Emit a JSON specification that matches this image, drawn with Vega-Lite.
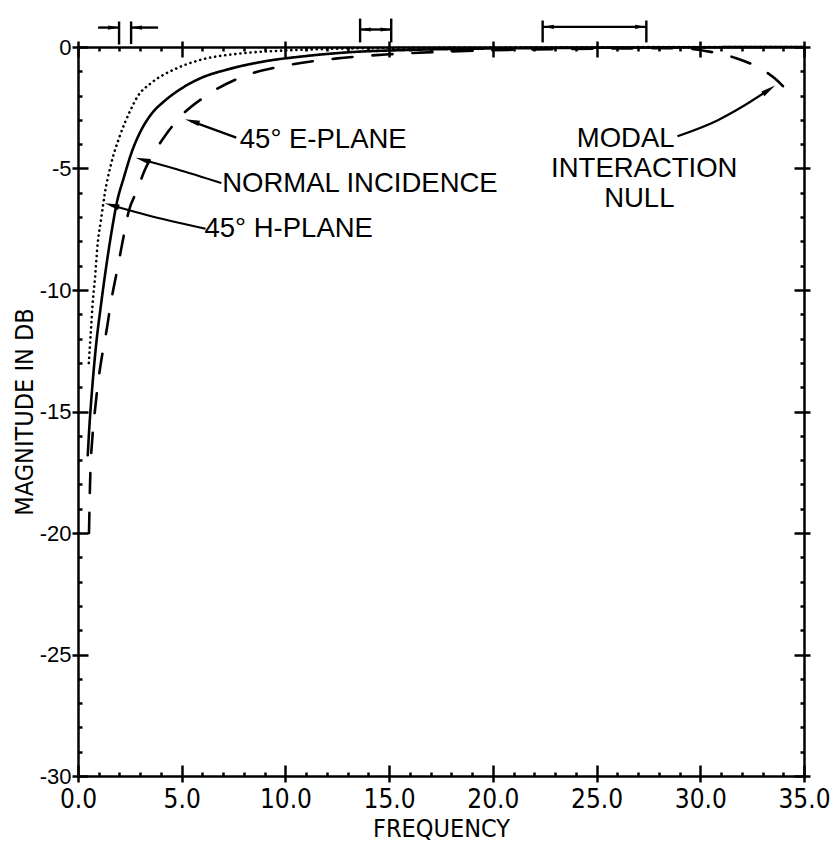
{
  "$schema": "https://vega.github.io/schema/vega-lite/v6.json",
  "autosize": {"type": "none"},
  "width": 726,
  "height": 729,
  "padding": {"left": 78, "top": 47, "right": 34, "bottom": 70},
  "background": "white",
  "config": {
    "view": {"stroke": null},
    "axis": {"grid": false, "domainColor": "black", "tickColor": "black", "labelColor": "black", "titleColor": "black"}
  },
  "datasets": {
    "curves": [
      {"series": "Normal incidence", "x": 0.47, "y": -16.8},
      {"series": "Normal incidence", "x": 0.55, "y": -15.6},
      {"series": "Normal incidence", "x": 0.66, "y": -14.3},
      {"series": "Normal incidence", "x": 0.88, "y": -12.2},
      {"series": "Normal incidence", "x": 1.11, "y": -10.6},
      {"series": "Normal incidence", "x": 1.4, "y": -8.8},
      {"series": "Normal incidence", "x": 1.6, "y": -7.7},
      {"series": "Normal incidence", "x": 1.9, "y": -6.3},
      {"series": "Normal incidence", "x": 2.2, "y": -5.4},
      {"series": "Normal incidence", "x": 2.6, "y": -4.3},
      {"series": "Normal incidence", "x": 3.0, "y": -3.5},
      {"series": "Normal incidence", "x": 3.5, "y": -2.8},
      {"series": "Normal incidence", "x": 4.2, "y": -2.2},
      {"series": "Normal incidence", "x": 5.0, "y": -1.7},
      {"series": "Normal incidence", "x": 6.0, "y": -1.25},
      {"series": "Normal incidence", "x": 7.1, "y": -0.95},
      {"series": "Normal incidence", "x": 9.0, "y": -0.59},
      {"series": "Normal incidence", "x": 10.9, "y": -0.38},
      {"series": "Normal incidence", "x": 13.0, "y": -0.22},
      {"series": "Normal incidence", "x": 16.0, "y": -0.12},
      {"series": "Normal incidence", "x": 20.0, "y": -0.06},
      {"series": "Normal incidence", "x": 25.0, "y": -0.03},
      {"series": "Normal incidence", "x": 30.0, "y": -0.01},
      {"series": "Normal incidence", "x": 35.0, "y": 0},
      {"series": "45° H-plane", "x": 0.52, "y": -13.0},
      {"series": "45° H-plane", "x": 0.62, "y": -11.7},
      {"series": "45° H-plane", "x": 0.72, "y": -10.4},
      {"series": "45° H-plane", "x": 0.82, "y": -9.5},
      {"series": "45° H-plane", "x": 0.93, "y": -8.25},
      {"series": "45° H-plane", "x": 1.11, "y": -7.1},
      {"series": "45° H-plane", "x": 1.3, "y": -6.0},
      {"series": "45° H-plane", "x": 1.57, "y": -4.9},
      {"series": "45° H-plane", "x": 2.0, "y": -3.7},
      {"series": "45° H-plane", "x": 2.53, "y": -2.6},
      {"series": "45° H-plane", "x": 2.9, "y": -2.0},
      {"series": "45° H-plane", "x": 3.5, "y": -1.5},
      {"series": "45° H-plane", "x": 4.65, "y": -0.92},
      {"series": "45° H-plane", "x": 5.9, "y": -0.53},
      {"series": "45° H-plane", "x": 7.7, "y": -0.28},
      {"series": "45° H-plane", "x": 9.8, "y": -0.15},
      {"series": "45° H-plane", "x": 12.0, "y": -0.08},
      {"series": "45° H-plane", "x": 15.0, "y": -0.04},
      {"series": "45° H-plane", "x": 20.0, "y": -0.02},
      {"series": "45° H-plane", "x": 25.0, "y": -0.01},
      {"series": "45° H-plane", "x": 35.0, "y": 0},
      {"series": "45° E-plane", "x": 0.53, "y": -20.0},
      {"series": "45° E-plane", "x": 0.58, "y": -18.0},
      {"series": "45° E-plane", "x": 0.7, "y": -16.0},
      {"series": "45° E-plane", "x": 0.8, "y": -15.1},
      {"series": "45° E-plane", "x": 1.0, "y": -13.6},
      {"series": "45° E-plane", "x": 1.18, "y": -12.6},
      {"series": "45° E-plane", "x": 1.37, "y": -11.7},
      {"series": "45° E-plane", "x": 1.59, "y": -10.5},
      {"series": "45° E-plane", "x": 1.87, "y": -9.26},
      {"series": "45° E-plane", "x": 2.13, "y": -8.1},
      {"series": "45° E-plane", "x": 2.45, "y": -6.75},
      {"series": "45° E-plane", "x": 2.85, "y": -5.9},
      {"series": "45° E-plane", "x": 3.2, "y": -5.1},
      {"series": "45° E-plane", "x": 3.7, "y": -4.3},
      {"series": "45° E-plane", "x": 4.2, "y": -3.65},
      {"series": "45° E-plane", "x": 4.9, "y": -2.9},
      {"series": "45° E-plane", "x": 6.1, "y": -2.05},
      {"series": "45° E-plane", "x": 8.0, "y": -1.2},
      {"series": "45° E-plane", "x": 10.1, "y": -0.75},
      {"series": "45° E-plane", "x": 12.4, "y": -0.48},
      {"series": "45° E-plane", "x": 15.0, "y": -0.3},
      {"series": "45° E-plane", "x": 18.0, "y": -0.18},
      {"series": "45° E-plane", "x": 22.0, "y": -0.1},
      {"series": "45° E-plane", "x": 26.0, "y": -0.06},
      {"series": "45° E-plane", "x": 29.0, "y": -0.05},
      {"series": "45° E-plane", "x": 30.5, "y": -0.2},
      {"series": "45° E-plane", "x": 31.7, "y": -0.45},
      {"series": "45° E-plane", "x": 32.7, "y": -0.8},
      {"series": "45° E-plane", "x": 33.6, "y": -1.3},
      {"series": "45° E-plane", "x": 34.4, "y": -2.0}
    ],
    "arrows": [
      {"id": "E", "x": 7.63, "y": -3.73},
      {"id": "E", "x": 5.45, "y": -3.05},
      {"id": "N", "x": 6.91, "y": -5.6},
      {"id": "N", "x": 4.76, "y": -5.03},
      {"id": "N", "x": 3.1, "y": -4.64},
      {"id": "H", "x": 6.15, "y": -7.48},
      {"id": "H", "x": 4.09, "y": -7.08},
      {"id": "H", "x": 1.6, "y": -6.51},
      {"id": "M", "x": 28.9, "y": -3.67},
      {"id": "M", "x": 30.85, "y": -3.01},
      {"id": "M", "x": 32.1, "y": -2.42},
      {"id": "M", "x": 33.3, "y": -1.76}
    ],
    "labels": [
      {"group": "left", "x": 7.8, "y": -3.81, "text": "45° E-PLANE"},
      {"group": "left", "x": 6.95, "y": -5.65, "text": "NORMAL INCIDENCE"},
      {"group": "left", "x": 6.1, "y": -7.49, "text": "45° H-PLANE"},
      {"group": "center", "x": 26.4, "y": -3.77, "text": "MODAL"},
      {"group": "center", "x": 27.3, "y": -5.0, "text": "INTERACTION"},
      {"group": "center", "x": 27.06, "y": -6.27, "text": "NULL"}
    ],
    "brackets": [
      {"x": 0.97, "y": 0.8, "x2": 1.98, "y2": 0.8},
      {"x": 2.56, "y": 0.8, "x2": 3.86, "y2": 0.8},
      {"x": 1.98, "y": 0.1, "x2": 1.98, "y2": 1.05},
      {"x": 2.56, "y": 0.12, "x2": 2.56, "y2": 1.05},
      {"x": 13.6, "y": 0.72, "x2": 15.1, "y2": 0.72},
      {"x": 13.6, "y": 0.19, "x2": 13.6, "y2": 1.17},
      {"x": 15.1, "y": 0.19, "x2": 15.1, "y2": 1.17},
      {"x": 22.4, "y": 0.83, "x2": 27.4, "y2": 0.83},
      {"x": 22.4, "y": 0.19, "x2": 22.4, "y2": 1.09},
      {"x": 27.4, "y": 0.19, "x2": 27.4, "y2": 1.09}
    ],
    "heads": [
      {"kind": "label", "x": 5.5, "y": -3.06},
      {"kind": "label", "x": 3.12, "y": -4.64},
      {"kind": "label", "x": 1.63, "y": -6.51},
      {"kind": "modal", "x": 33.31, "y": -1.76},
      {"kind": "right", "x": 1.72, "y": 0.8},
      {"kind": "left", "x": 2.82, "y": 0.8},
      {"kind": "left", "x": 13.85, "y": 0.72},
      {"kind": "right", "x": 14.85, "y": 0.72},
      {"kind": "left", "x": 22.68, "y": 0.83},
      {"kind": "right", "x": 27.12, "y": 0.83}
    ]
  },
  "resolve": {"axis": {"x": "independent", "y": "independent"}},
  "layer": [
    {
      "data": {"name": "curves"},
      "mark": {"type": "line", "interpolate": "monotone", "color": "black", "strokeCap": "round"},
      "encoding": {
        "x": {"field": "x", "type": "quantitative", "scale": {"domain": [0, 35], "nice": false, "zero": false},
          "axis": {"orient": "bottom", "values": [0, 5, 10, 15, 20, 25, 30, 35], "tickSize": 6, "tickWidth": 2.5, "domainWidth": 2.5,
            "labelExpr": "format(datum.value, '.1f')", "labelFont": "Liberation Sans Narrow, DejaVu Sans Condensed, Liberation Sans, sans-serif", "labelFontSize": 26, "labelPadding": 4, "labelFlush": false,
            "title": "FREQUENCY", "titleFont": "Liberation Sans Narrow, DejaVu Sans Condensed, Liberation Sans, sans-serif", "titleFontSize": 25, "titleFontWeight": "normal", "titlePadding": 4}},
        "y": {"field": "y", "type": "quantitative", "scale": {"domain": [-30, 0], "nice": false, "zero": false},
          "axis": {"orient": "left", "values": [-30, -25, -20, -15, -10, -5, 0], "tickSize": 6, "tickWidth": 2.5, "domainWidth": 2.5,
            "labelExpr": "'' + datum.value", "labelFont": "Liberation Sans, sans-serif", "labelFontSize": 22, "labelPadding": 1, "labelFlush": false,
            "title": "MAGNITUDE IN DB", "titleFont": "Liberation Sans Narrow, DejaVu Sans Condensed, Liberation Sans, sans-serif", "titleFontSize": 25, "titleFontWeight": "normal", "titlePadding": 2}},
        "strokeDash": {"field": "series", "type": "nominal", "legend": null,
          "scale": {"domain": ["Normal incidence", "45° E-plane", "45° H-plane"], "range": [[1, 0], [20, 20], [0.1, 5]]}},
        "strokeWidth": {"field": "series", "type": "nominal", "legend": null,
          "scale": {"domain": ["Normal incidence", "45° E-plane", "45° H-plane"], "range": [2.6, 2.6, 3.2]}}
      }
    },
    {
      "data": {"name": "arrows"},
      "mark": {"type": "line", "interpolate": "monotone", "strokeWidth": 2.2, "color": "black"},
      "encoding": {
        "x": {"field": "x", "type": "quantitative", "scale": {"domain": [0, 35], "nice": false, "zero": false},
          "axis": {"orient": "top", "values": [0, 5, 10, 15, 20, 25, 30, 35], "tickSize": 6, "tickWidth": 2.5, "domainWidth": 2.5, "labels": false, "title": null}},
        "y": {"field": "y", "type": "quantitative", "scale": {"domain": [-30, 0], "nice": false, "zero": false},
          "axis": {"orient": "right", "values": [-30, -25, -20, -15, -10, -5, 0], "tickSize": 6, "tickWidth": 2.5, "domainWidth": 2.5, "labels": false, "title": null}},
        "detail": {"field": "id", "type": "nominal"}
      }
    },
    {
      "data": {"name": "labels"},
      "transform": [{"filter": "datum.group === 'left'"}],
      "mark": {"type": "text", "align": "left", "baseline": "middle", "font": "Liberation Sans, sans-serif", "fontSize": 27.5, "color": "black"},
      "encoding": {
        "x": {"field": "x", "type": "quantitative", "scale": {"domain": [0, 35], "nice": false, "zero": false},
          "axis": {"orient": "bottom", "values": [0,1,2,3,4,5,6,7,8,9,10,11,12,13,14,15,16,17,18,19,20,21,22,23,24,25,26,27,28,29,30,31,32,33,34,35],
            "tickSize": {"condition": {"test": "datum.value % 5 === 0", "value": -11}, "value": -4}, "tickWidth": 2.5, "domain": false, "labels": false, "title": null}},
        "y": {"field": "y", "type": "quantitative", "scale": {"domain": [-30, 0], "nice": false, "zero": false},
          "axis": {"orient": "left", "values": [-30,-29,-28,-27,-26,-25,-24,-23,-22,-21,-20,-19,-18,-17,-16,-15,-14,-13,-12,-11,-10,-9,-8,-7,-6,-5,-4,-3,-2,-1,0],
            "tickSize": {"condition": {"test": "datum.value % 5 === 0", "value": -10}, "value": -4}, "tickWidth": 2.5, "domain": false, "labels": false, "title": null}},
        "text": {"field": "text", "type": "nominal"}
      }
    },
    {
      "data": {"name": "brackets"},
      "mark": {"type": "rule", "strokeWidth": 2.4, "color": "black"},
      "encoding": {
        "x": {"field": "x", "type": "quantitative", "scale": {"domain": [0, 35], "nice": false, "zero": false},
          "axis": {"orient": "top", "values": [0,1,2,3,4,5,6,7,8,9,10,11,12,13,14,15,16,17,18,19,20,21,22,23,24,25,26,27,28,29,30,31,32,33,34,35],
            "tickSize": {"condition": {"test": "datum.value % 5 === 0", "value": -10}, "value": -4}, "tickWidth": 2.5, "domain": false, "labels": false, "title": null}},
        "y": {"field": "y", "type": "quantitative", "scale": {"domain": [-30, 0], "nice": false, "zero": false},
          "axis": {"orient": "right", "values": [-30,-29,-28,-27,-26,-25,-24,-23,-22,-21,-20,-19,-18,-17,-16,-15,-14,-13,-12,-11,-10,-9,-8,-7,-6,-5,-4,-3,-2,-1,0],
            "tickSize": {"condition": {"test": "datum.value % 5 === 0", "value": -10}, "value": -4}, "tickWidth": 2.5, "domain": false, "labels": false, "title": null}},
        "x2": {"field": "x2"},
        "y2": {"field": "y2"}
      }
    },
    {
      "data": {"name": "labels"},
      "transform": [{"filter": "datum.group === 'center'"}],
      "mark": {"type": "text", "align": "center", "baseline": "middle", "font": "Liberation Sans, sans-serif", "fontSize": 27.5, "color": "black"},
      "encoding": {
        "x": {"field": "x", "type": "quantitative", "scale": {"domain": [0, 35], "nice": false, "zero": false}, "axis": null},
        "y": {"field": "y", "type": "quantitative", "scale": {"domain": [-30, 0], "nice": false, "zero": false}, "axis": null},
        "text": {"field": "text", "type": "nominal"}
      }
    },
    {
      "data": {"name": "heads"},
      "transform": [{"filter": "datum.kind === 'label'"}],
      "mark": {"type": "point", "shape": "M0,-1L0.38,1L-0.38,1Z", "filled": true, "size": 220, "angle": 286, "color": "black", "opacity": 1},
      "encoding": {
        "x": {"field": "x", "type": "quantitative", "scale": {"domain": [0, 35], "nice": false, "zero": false}, "axis": null},
        "y": {"field": "y", "type": "quantitative", "scale": {"domain": [-30, 0], "nice": false, "zero": false}, "axis": null}
      }
    },
    {
      "data": {"name": "heads"},
      "transform": [{"filter": "datum.kind === 'modal'"}],
      "mark": {"type": "point", "shape": "M0,-1L0.38,1L-0.38,1Z", "filled": true, "size": 220, "angle": 56, "color": "black", "opacity": 1},
      "encoding": {
        "x": {"field": "x", "type": "quantitative", "scale": {"domain": [0, 35], "nice": false, "zero": false}, "axis": null},
        "y": {"field": "y", "type": "quantitative", "scale": {"domain": [-30, 0], "nice": false, "zero": false}, "axis": null}
      }
    },
    {
      "data": {"name": "heads"},
      "transform": [{"filter": "datum.kind === 'right'"}],
      "mark": {"type": "point", "shape": "M0,-1L0.38,1L-0.38,1Z", "filled": true, "size": 120, "angle": 90, "color": "black", "opacity": 1},
      "encoding": {
        "x": {"field": "x", "type": "quantitative", "scale": {"domain": [0, 35], "nice": false, "zero": false}, "axis": null},
        "y": {"field": "y", "type": "quantitative", "scale": {"domain": [-30, 0], "nice": false, "zero": false}, "axis": null}
      }
    },
    {
      "data": {"name": "heads"},
      "transform": [{"filter": "datum.kind === 'left'"}],
      "mark": {"type": "point", "shape": "M0,-1L0.38,1L-0.38,1Z", "filled": true, "size": 120, "angle": 270, "color": "black", "opacity": 1},
      "encoding": {
        "x": {"field": "x", "type": "quantitative", "scale": {"domain": [0, 35], "nice": false, "zero": false}, "axis": null},
        "y": {"field": "y", "type": "quantitative", "scale": {"domain": [-30, 0], "nice": false, "zero": false}, "axis": null}
      }
    }
  ]
}
